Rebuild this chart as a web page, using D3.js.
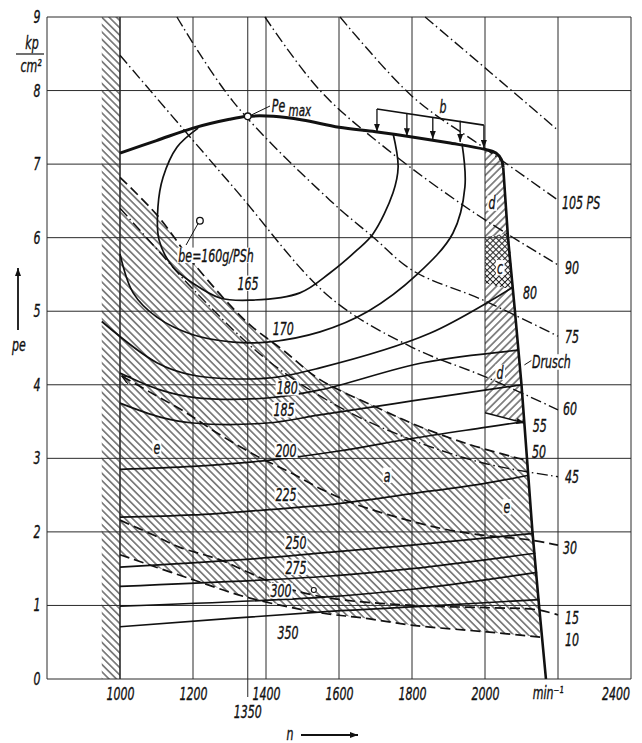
<!DOCTYPE html>
<html>
<head>
<meta charset="utf-8">
<script src="https://cdn.jsdelivr.net/npm/d3@7"></script>
<style>
  body { margin: 0; background: #fff; }
  svg text { font-family: "DejaVu Sans Condensed", "DejaVu Sans", sans-serif; font-style: italic; fill: #111; stroke: #111; stroke-width: 0.35px; }
</style>
</head>
<body>
<div id="chart"></div>
<script>
const width = 642;
const height = 743;

// speed n (min-1) and mean effective pressure pe (kp/cm2)
const speedTicks = [1000, 1200, 1400, 1600, 1800, 2000, 2400];
const speedGrid = [1000, 1200, 1350, 1400, 1600, 1800, 2000, 2200, 2400];
const peTicks = [0, 1, 2, 3, 4, 5, 6, 7, 8, 9];

const fullLoad = [[1000, 7.15], [1100, 7.32], [1200, 7.49], [1300, 7.61], [1350, 7.65], [1420, 7.65],
  [1500, 7.6], [1600, 7.5], [1700, 7.44], [1800, 7.37], [1900, 7.29], [2000, 7.2], [2030, 7.15],
  [2045, 7.06], [2050, 6.95]];
const governor = [[2050, 6.95], [2063, 6.0], [2082, 5.0], [2100, 4.0], [2115, 3.0], [2130, 2.0],
  [2148, 1.0], [2167, 0]];
const peMax = [1350, 7.65];
const beBest = [1219, 6.23];

// specific fuel consumption lines, g/PSh
const be165 = [[1214, 7.49], [1156, 7.23], [1118, 6.82], [1104, 6.42], [1107, 5.97], [1145, 5.6],
  [1200, 5.38], [1274, 5.18], [1356, 5.15], [1493, 5.25], [1575, 5.52], [1649, 5.83], [1693, 6.05],
  [1748, 6.61], [1762, 6.96], [1748, 7.42]];
const be170 = [[1000, 5.78], [1036, 5.25], [1101, 4.92], [1200, 4.68], [1310, 4.58], [1403, 4.58],
  [1548, 4.72], [1680, 5.0], [1814, 5.5], [1912, 6.06], [1945, 6.69], [1937, 7.28]];
const be175 = [[950, 4.86], [1101, 4.3], [1200, 4.13], [1403, 4.09], [1548, 4.23], [1849, 4.7], [2077, 5.33]];
const be180 = [[1000, 4.16], [1110, 3.93], [1200, 3.83], [1403, 3.82], [1548, 3.93], [1830, 4.3], [2092, 4.47]];
const be185 = [[1000, 3.75], [1110, 3.56], [1200, 3.48], [1403, 3.48], [1548, 3.59], [1800, 3.78], [2100, 4.0]];
const be200 = [[1000, 2.85], [1200, 2.89], [1400, 2.97], [1600, 3.1], [1800, 3.27], [2000, 3.42], [2108, 3.5]];
const be225 = [[1000, 2.2], [1200, 2.23], [1400, 2.3], [1575, 2.37], [1800, 2.52], [2000, 2.66], [2120, 2.77]];
const be250 = [[1000, 1.52], [1356, 1.63], [1548, 1.71], [1800, 1.82], [2133, 1.98]];
const be275 = [[1000, 1.26], [1548, 1.39], [1800, 1.5], [2138, 1.71]];
const be300 = [[1000, 0.99], [1548, 1.11], [1800, 1.22], [2143, 1.45]];
const be350 = [[1000, 0.71], [1575, 0.92], [1800, 0.98], [2149, 1.08]];

// constant power lines (dash-dot), PS
const pw120 = [[1836, 9], [2014, 8.25], [2200, 7.46]];
const pw105 = [[1603, 9], [1803, 7.91], [1995, 7.23], [2200, 6.51]];
const pw90 = [[1397, 9], [1548, 8.0], [1732, 7.2], [1967, 6.35], [2200, 5.63]];
const pw75 = [[1156, 9], [1310, 7.85], [1575, 6.51], [1693, 6.01], [1803, 5.55], [1995, 5.15], [2200, 4.66]];
const pw60 = [[1000, 8.48], [1310, 6.69], [1575, 5.19], [1800, 4.51], [2005, 4.1], [2200, 3.66]];
const pw45 = [[1000, 6.4], [1100, 5.85], [1200, 5.3], [1400, 4.35], [1600, 3.7], [1800, 3.25], [2000, 2.93], [2200, 2.75]];

// operating lines (dashed)
const op50 = [[1000, 6.82], [1101, 6.31], [1205, 5.63], [1348, 4.85], [1447, 4.47], [1548, 4.07],
  [1700, 3.7], [1822, 3.43], [1950, 3.2], [2077, 3.02], [2118, 2.97]];
const op30 = [[1005, 4.12], [1082, 3.9], [1178, 3.63], [1274, 3.32], [1375, 3.03], [1466, 2.81],
  [1556, 2.57], [1638, 2.39], [1759, 2.2], [1877, 2.05], [1986, 1.96], [2123, 1.89], [2200, 1.82]];
const op15 = [[1000, 2.16], [1090, 1.96], [1164, 1.79], [1274, 1.62], [1356, 1.44], [1447, 1.25],
  [1575, 1.1], [1803, 1.0], [2005, 0.97], [2145, 0.94], [2200, 0.87]];
const op10 = [[1000, 1.69], [1200, 1.35], [1356, 1.1], [1548, 0.9], [1666, 0.83], [1803, 0.73],
  [2005, 0.64], [2151, 0.57]];
const line55 = [[2000, 3.62], [2108, 3.48]];

const band = [950, 1000];
const cZone = [[2000, 6.01], [2065, 6.06], [2078, 5.29], [2000, 5.38]];
const bBracket = [[1704, 7.75], [1997, 7.53]];
const bArrows = [[1704, 7.75, 7.44], [1786, 7.69, 7.38], [1857, 7.64, 7.34], [1932, 7.59, 7.3], [1997, 7.53, 7.22]];
const minorPoint = [1531, 1.21];

const svg = d3.select('#chart').append('svg')
  .attr('width', width)
  .attr('height', height);

svg.append('rect').attr('width', width).attr('height', height).attr('fill', '#fff');

const x = d3.scaleLinear().domain([800, 2400]).range([47, 631]);
const y = d3.scaleLinear().domain([0, 9]).range([679, 17]);

const smooth = d3.line().x(d => x(d[0])).y(d => y(d[1])).curve(d3.curveCatmullRom.alpha(0.5));
const straight = d3.line().x(d => x(d[0])).y(d => y(d[1]));

// hatch patterns
const defs = svg.append('defs');
function hatch(id, angle, gap) {
  const p = defs.append('pattern')
    .attr('id', id)
    .attr('patternUnits', 'userSpaceOnUse')
    .attr('width', gap)
    .attr('height', gap)
    .attr('patternTransform', `rotate(${angle})`);
  p.append('line')
    .attr('x1', gap / 2).attr('y1', 0)
    .attr('x2', gap / 2).attr('y2', gap)
    .attr('stroke', '#1a1a1a')
    .attr('stroke-width', 1);
}
hatch('hatchBack', -45, 5.2);
hatch('hatchFwd', 45, 5.4);
hatch('hatchFwdFine', 45, 4.2);
hatch('hatchBackFine', -45, 4.2);

defs.append('marker')
  .attr('id', 'arrowFill')
  .attr('viewBox', '0 0 8 6')
  .attr('refX', 8).attr('refY', 3)
  .attr('markerWidth', 8).attr('markerHeight', 6)
  .attr('markerUnits', 'userSpaceOnUse')
  .attr('orient', 'auto')
  .append('path').attr('d', 'M0,0L8,3L0,6Z').attr('fill', '#111');

defs.append('marker')
  .attr('id', 'arrowOpen')
  .attr('viewBox', '0 0 9 8')
  .attr('refX', 9).attr('refY', 4)
  .attr('markerWidth', 9).attr('markerHeight', 8)
  .attr('markerUnits', 'userSpaceOnUse')
  .attr('orient', 'auto-start-reverse')
  .append('path').attr('d', 'M0,0L9,4L0,8').attr('fill', 'none').attr('stroke', '#111').attr('stroke-width', 1.3);

// hatched areas
const areas = svg.append('g');

areas.append('rect')
  .attr('x', x(band[0]))
  .attr('y', y(9))
  .attr('width', x(band[1]) - x(band[0]))
  .attr('height', y(0) - y(9))
  .attr('fill', 'url(#hatchBack)');

const op50End = op50[op50.length - 1][1];
const op10End = op10[op10.length - 1][1];
const eZone = op50
  .concat(governor.filter(d => d[1] < op50End && d[1] > op10End))
  .concat(op10.slice().reverse());
areas.append('path')
  .attr('d', straight(eZone) + 'Z')
  .attr('fill', 'url(#hatchBack)');

const dZone = fullLoad.filter(d => d[0] >= 2000)
  .concat(governor.filter(d => d[1] < 6.95 && d[1] > line55[1][1]))
  .concat(line55.slice().reverse());
areas.append('path')
  .attr('d', straight(dZone) + 'Z')
  .attr('fill', 'url(#hatchFwd)');

areas.append('path').attr('d', straight(cZone) + 'Z').attr('fill', '#fff');
areas.append('path').attr('d', straight(cZone) + 'Z').attr('fill', 'url(#hatchFwdFine)');
areas.append('path').attr('d', straight(cZone) + 'Z').attr('fill', 'url(#hatchBackFine)');

// grid and frame
const grid = svg.append('g').attr('stroke', '#2a2a2a').attr('stroke-width', 1).attr('fill', 'none');

grid.selectAll('.vgrid')
  .data(speedGrid)
  .enter()
  .append('line')
  .attr('class', 'vgrid')
  .attr('x1', d => x(d)).attr('x2', d => x(d))
  .attr('y1', y(9))
  .attr('y2', d => d === 1350 ? y(0) + 18 : y(0))
  .attr('stroke-width', d => d === 1000 ? 1.6 : 1);

grid.selectAll('.hgrid')
  .data(peTicks)
  .enter()
  .append('line')
  .attr('class', 'hgrid')
  .attr('x1', x(800)).attr('x2', x(2400))
  .attr('y1', d => y(d)).attr('y2', d => y(d));

grid.append('line')
  .attr('x1', x(800)).attr('x2', x(800))
  .attr('y1', y(9)).attr('y2', y(0));

// axes
const xAxis = d3.axisBottom(x).tickValues(speedTicks).tickSize(0).tickPadding(9).tickFormat(d3.format('d'));
svg.append('g')
  .attr('transform', `translate(0,${y(0)})`)
  .call(xAxis)
  .call(g => g.select('.domain').remove())
  .call(g => g.selectAll('text')
    .attr('transform', 'scale(0.72,1)')
    .style('font-size', '17px'))
  .call(g => g.selectAll('.tick').filter(d => d === 2400).select('text')
    .attr('text-anchor', 'end').attr('x', -2));

const yAxis = d3.axisLeft(y).tickValues(peTicks).tickSize(0).tickPadding(9);
svg.append('g')
  .attr('transform', `translate(${x(800)},0)`)
  .call(yAxis)
  .call(g => g.select('.domain').remove())
  .call(g => g.selectAll('text')
    .attr('transform', 'scale(0.72,1)')
    .style('font-size', '17px'));

// constant power lines
const powerLines = [pw120, pw105, pw90, pw75, pw60, pw45];
svg.append('g').selectAll('path')
  .data(powerLines)
  .enter()
  .append('path')
  .attr('d', d => smooth(d))
  .attr('fill', 'none')
  .attr('stroke', '#111')
  .attr('stroke-width', 1.4)
  .attr('stroke-dasharray', '11,3.5,1.5,3.5');

// operating lines
const opLines = [op50, op30, op15, op10];
svg.append('g').selectAll('path')
  .data(opLines)
  .enter()
  .append('path')
  .attr('d', d => smooth(d))
  .attr('fill', 'none')
  .attr('stroke', '#111')
  .attr('stroke-width', 1.7)
  .attr('stroke-dasharray', '10,5')
  .attr('marker-start', (d, i) => i === 1 ? 'url(#arrowOpen)' : null);

svg.append('path')
  .attr('d', straight(line55))
  .attr('fill', 'none')
  .attr('stroke', '#111')
  .attr('stroke-width', 1.4)
  .attr('marker-end', 'url(#arrowFill)');

// fuel consumption lines
const beCurves = [be165, be170, be175, be180, be185, be200, be225, be250, be275, be300, be350];
svg.append('g').selectAll('path')
  .data(beCurves)
  .enter()
  .append('path')
  .attr('d', d => smooth(d))
  .attr('fill', 'none')
  .attr('stroke', '#111')
  .attr('stroke-width', 1.7);

// full load curve and governor line
svg.append('path')
  .attr('d', smooth(fullLoad))
  .attr('fill', 'none')
  .attr('stroke', '#111')
  .attr('stroke-width', 3);

svg.append('path')
  .attr('d', straight(governor))
  .attr('fill', 'none')
  .attr('stroke', '#111')
  .attr('stroke-width', 2.6);

// bracket b with arrows
svg.append('path')
  .attr('d', straight(bBracket))
  .attr('fill', 'none')
  .attr('stroke', '#111')
  .attr('stroke-width', 1.6);

svg.append('g').selectAll('line')
  .data(bArrows)
  .enter()
  .append('line')
  .attr('x1', d => x(d[0])).attr('x2', d => x(d[0]))
  .attr('y1', d => y(d[1])).attr('y2', d => y(d[2]))
  .attr('stroke', '#111')
  .attr('stroke-width', 1.3)
  .attr('marker-end', 'url(#arrowFill)');

// marked points
svg.append('line')
  .attr('x1', x(peMax[0]) + 3).attr('y1', y(peMax[1]) - 1)
  .attr('x2', x(1411)).attr('y2', y(7.79))
  .attr('stroke', '#111').attr('stroke-width', 1);
svg.append('line')
  .attr('x1', x(beBest[0]) - 2).attr('y1', y(beBest[1]) + 3)
  .attr('x2', x(1181)).attr('y2', y(5.9))
  .attr('stroke', '#111').attr('stroke-width', 1);

svg.selectAll('.pt')
  .data([peMax, beBest])
  .enter()
  .append('circle')
  .attr('class', 'pt')
  .attr('cx', d => x(d[0])).attr('cy', d => y(d[1]))
  .attr('r', 3.3)
  .attr('fill', '#fff')
  .attr('stroke', '#111')
  .attr('stroke-width', 1.3);

svg.append('circle')
  .attr('cx', x(minorPoint[0])).attr('cy', y(minorPoint[1]))
  .attr('r', 2.5)
  .attr('fill', '#fff')
  .attr('stroke', '#111')
  .attr('stroke-width', 1.1);

// labels
const labels = svg.append('g');
function label(text, n, pe, opts = {}) {
  const g = labels.append('g').attr('transform', `translate(${x(n)},${y(pe)})`);
  const s = g.append('g').attr('transform', 'scale(0.72,1)');
  const t = s.append('text')
    .attr('text-anchor', opts.anchor || 'middle')
    .attr('dominant-baseline', 'central')
    .style('font-size', (opts.size || 17) + 'px')
    .text(text);
  if (opts.sub) {
    t.append('tspan').attr('dy', 5).style('font-size', '16px').text(opts.sub);
  }
  if (opts.bg !== false) {
    const b = t.node().getBBox();
    s.insert('rect', 'text')
      .attr('x', b.x - 1.5).attr('y', b.y + 2)
      .attr('width', b.width + 3).attr('height', b.height - 4)
      .attr('fill', '#fff');
  }
}

label('165', 1351, 5.38);
label('170', 1447, 4.76);
label('180', 1458, 3.96);
label('185', 1449, 3.66);
label('200', 1455, 3.11);
label('225', 1455, 2.5);
label('250', 1482, 1.85);
label('275', 1482, 1.52);
label('300', 1441, 1.2);
label('350', 1460, 0.63);
label('e', 1101, 3.14);
label('e', 2060, 2.34);
label('a', 1732, 2.77);
label('d', 2019, 6.47);
label('c', 2041, 5.59);
label('d', 2041, 4.17);
label('b', 1885, 7.78, { bg: false });
label('be=160g/PSh', 1263, 5.76);
label('Pe', 1416, 7.8, { anchor: 'start', bg: false, sub: ' max' });
label('Drusch', 2129, 4.31, { anchor: 'start' });
label('105 PS', 2211, 6.47, { anchor: 'start', bg: false });
label('90', 2219, 5.59, { anchor: 'start', bg: false });
label('80', 2104, 5.25, { anchor: 'start', bg: false });
label('75', 2219, 4.65, { anchor: 'start', bg: false });
label('60', 2214, 3.68, { anchor: 'start', bg: false });
label('55', 2131, 3.45, { anchor: 'start', bg: false });
label('50', 2129, 3.09, { anchor: 'start', bg: false });
label('45', 2219, 2.75, { anchor: 'start', bg: false });
label('30', 2214, 1.78, { anchor: 'start', bg: false });
label('15', 2219, 0.83, { anchor: 'start', bg: false });
label('10', 2219, 0.54, { anchor: 'start', bg: false });

// Drusch leader
svg.append('line')
  .attr('x1', x(2108)).attr('y1', y(4.27))
  .attr('x2', x(2127)).attr('y2', y(4.33))
  .attr('stroke', '#111').attr('stroke-width', 1);

// axis extras: 1350, unit and axis names
const axisText = svg.append('g');
function plain(text, px, py, anchor = 'middle', size = 17) {
  axisText.append('g').attr('transform', `translate(${px},${py})`)
    .append('text')
    .attr('transform', 'scale(0.72,1)')
    .attr('text-anchor', anchor)
    .attr('dominant-baseline', 'central')
    .style('font-size', size + 'px')
    .text(text);
}
plain('1350', x(1350), y(0) + 33);
plain('min⁻¹', x(2173), y(0) + 14);
plain('kp', x(800) - 15, 43);
plain('cm²', x(800) - 16, 66);
plain('pe', 19, 345);
plain('n', 290, 734);

axisText.append('line')
  .attr('x1', 16).attr('x2', 44).attr('y1', 54).attr('y2', 54)
  .attr('stroke', '#111').attr('stroke-width', 1.2);

axisText.append('line')
  .attr('x1', 18).attr('x2', 18).attr('y1', 330).attr('y2', 268)
  .attr('stroke', '#111').attr('stroke-width', 1.8)
  .attr('marker-end', 'url(#arrowFill)');

axisText.append('line')
  .attr('x1', 301).attr('x2', 358).attr('y1', 735).attr('y2', 735)
  .attr('stroke', '#111').attr('stroke-width', 1.8)
  .attr('marker-end', 'url(#arrowFill)');
</script>
</body>
</html>
